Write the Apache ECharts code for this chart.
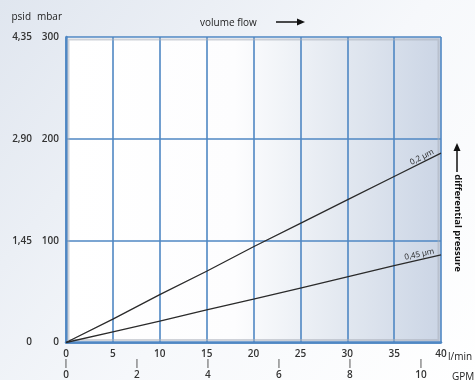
<!DOCTYPE html>
<html>
<head>
<meta charset="utf-8">
<script src="https://cdn.jsdelivr.net/npm/echarts@6/dist/echarts.min.js"></script>
<style>
  html, body { margin: 0; padding: 0; }
  #chart { width: 475px; height: 380px; }
</style>
</head>
<body>
<div id="chart"></div>
<script>
// Flow in l/min and differential pressure in mbar for two membrane pore sizes
const flowLmin = [0, 5, 10, 15, 20, 25, 30, 35, 40];
const dp02um = [0, 23, 47, 70, 94, 117, 140, 163, 186];
const dp045um = [0, 10.5, 21, 32, 42.5, 53.5, 64.5, 75.5, 86];
const seriesNames = ['0,2 µm', '0,45 µm'];
const psidLabels = ['0', '1,45', '2,90', '4,35'];
const LMIN_PER_GPM = 3.785412;

const FONT = '"Open Sans", "DejaVu Sans", sans-serif';
const BLUE = '#4f87c3';

const chart = echarts.init(document.getElementById('chart'));

function pairs(ys) {
  return flowLmin.map((x, i) => [x, ys[i]]);
}

// label the last point of a curve, tilted along the curve
function withEndLabel(ys, name, rot) {
  const d = pairs(ys);
  const last = d.length - 1;
  d[last] = {
    value: d[last],
    label: {
      show: true,
      formatter: name,
      position: 'left',
      rotate: rot,
      align: 'right',
      verticalAlign: 'bottom',
      offset: [-6, -1],
      distance: 0,
      fontFamily: FONT,
      fontSize: 8,
      color: '#222'
    }
  };
  return d;
}

const unitText = (id, text, x, y, align) => ({
  id, type: 'text', x, y,
  style: { text, fontFamily: FONT, fontSize: 10, fill: '#222', align, verticalAlign: 'middle' }
});

const option = {
  backgroundColor: new echarts.graphic.LinearGradient(0, 0, 1, 1, [
    { offset: 0, color: '#e0e6ef' },
    { offset: 0.55, color: '#f6f8fb' },
    { offset: 1, color: '#ffffff' }
  ]),
  animation: false,
  textStyle: { fontFamily: FONT },
  title: {
    text: 'volume flow',
    left: 195,
    top: 13,
    textStyle: { fontFamily: FONT, fontSize: 10, fontWeight: 'normal', color: '#222' }
  },
  grid: {
    left: 66, right: 34, top: 37, bottom: 35,
    show: true,
    borderWidth: 0,
    backgroundColor: new echarts.graphic.LinearGradient(0, 0, 1, 0, [
      { offset: 0, color: '#ffffff' },
      { offset: 0.45, color: '#fdfdfe' },
      { offset: 0.7, color: '#e6ebf2' },
      { offset: 1, color: '#cbd5e5' }
    ])
  },
  xAxis: [
    {
      type: 'value', min: 0, max: 40, interval: 5,
      axisLine: { show: true, lineStyle: { color: BLUE, width: 2.5 } },
      axisTick: { show: false },
      splitLine: { show: true, lineStyle: { color: BLUE, width: 1.6 } },
      axisLabel: { margin: 7, fontFamily: FONT, fontSize: 10, fontWeight: 600, color: '#333' }
    },
    {
      // secondary flow scale in US gallons per minute, each value with a small tick mark above it
      type: 'value', position: 'bottom', offset: 17,
      min: 0, max: 40 / LMIN_PER_GPM, interval: 2,
      axisLine: { show: false, onZero: false },
      axisTick: { show: false },
      splitLine: { show: false },
      axisLabel: {
        margin: 0, verticalAlign: 'top', showMaxLabel: false,
        formatter: v => '{tick||}\n{num|' + v + '}',
        rich: {
          tick: { fontFamily: FONT, fontSize: 8, fontWeight: 'bold', lineHeight: 9, color: '#444' },
          num: { fontFamily: FONT, fontSize: 10, fontWeight: 600, lineHeight: 13, color: '#333' }
        }
      }
    }
  ],
  yAxis: [
    {
      type: 'value', min: 0, max: 300, interval: 100,
      axisLine: { show: true, lineStyle: { color: BLUE, width: 2.5 } },
      axisTick: { show: false },
      splitLine: { show: true, lineStyle: { color: BLUE, width: 1.6 } },
      axisLabel: { margin: 7, fontFamily: FONT, fontSize: 10, fontWeight: 600, color: '#333' }
    },
    {
      type: 'value', position: 'left', offset: 27, min: 0, max: 300, interval: 100,
      axisLine: { show: false },
      axisTick: { show: false },
      splitLine: { show: false },
      axisLabel: {
        margin: 7, fontFamily: FONT, fontSize: 10, fontWeight: 600, color: '#333',
        formatter: v => psidLabels[Math.round(v / 100)]
      }
    }
  ],
  series: [
    {
      name: seriesNames[0], type: 'line', xAxisIndex: 0, yAxisIndex: 0,
      data: withEndLabel(dp02um, seriesNames[0], 27),
      symbol: 'circle', symbolSize: 0, showSymbol: true,
      lineStyle: { color: '#2a2a2a', width: 1.3 }, z: 5
    },
    {
      name: seriesNames[1], type: 'line', xAxisIndex: 0, yAxisIndex: 0,
      data: withEndLabel(dp045um, seriesNames[1], 12),
      symbol: 'circle', symbolSize: 0, showSymbol: true,
      lineStyle: { color: '#2a2a2a', width: 1.3 }, z: 5
    }
  ],
  graphic: [
    unitText('unitPsid', 'psid', 31, 17, 'right'),
    unitText('unitMbar', 'mbar', 62, 17, 'right'),
    unitText('unitLmin', 'l/min', 448, 357, 'left'),
    unitText('unitGpm', 'GPM', 452, 377, 'left'),
    // arrow after "volume flow"
    { id: 'flowShaft', type: 'line', shape: { x1: 276, y1: 22, x2: 298, y2: 22 }, style: { stroke: '#111', lineWidth: 1.5 } },
    { id: 'flowHead', type: 'polygon', shape: { points: [[297, 18.5], [305, 22], [297, 25.5]] }, style: { fill: '#111' } },
    // upward arrow above the pressure caption
    { id: 'dpShaft', type: 'line', shape: { x1: 457, y1: 150, x2: 457, y2: 172 }, style: { stroke: '#111', lineWidth: 1.5 } },
    { id: 'dpHead', type: 'polygon', shape: { points: [[453.5, 151], [457, 143], [460.5, 151]] }, style: { fill: '#111' } },
    {
      id: 'dpCaption', type: 'text', x: 458, y: 223, rotation: -Math.PI / 2,
      style: {
        text: 'differential pressure', fontFamily: FONT, fontSize: 9.5, fontWeight: 'bold',
        fill: '#111', align: 'center', verticalAlign: 'middle'
      }
    }
  ]
};

chart.setOption(option);

// soft grey inner frame along the plot edges
const tl = chart.convertToPixel({ gridIndex: 0 }, [0, 300]);
const br = chart.convertToPixel({ gridIndex: 0 }, [40, 0]);
chart.setOption({
  graphic: [{
    id: 'innerFrame', type: 'rect', z: 1, silent: true,
    shape: { x: tl[0] + 2.5, y: tl[1] + 2.5, width: br[0] - tl[0] - 5, height: br[1] - tl[1] - 5 },
    style: { fill: null, stroke: 'rgba(170,175,185,0.55)', lineWidth: 2 }
  }]
});
</script>
</body>
</html>
